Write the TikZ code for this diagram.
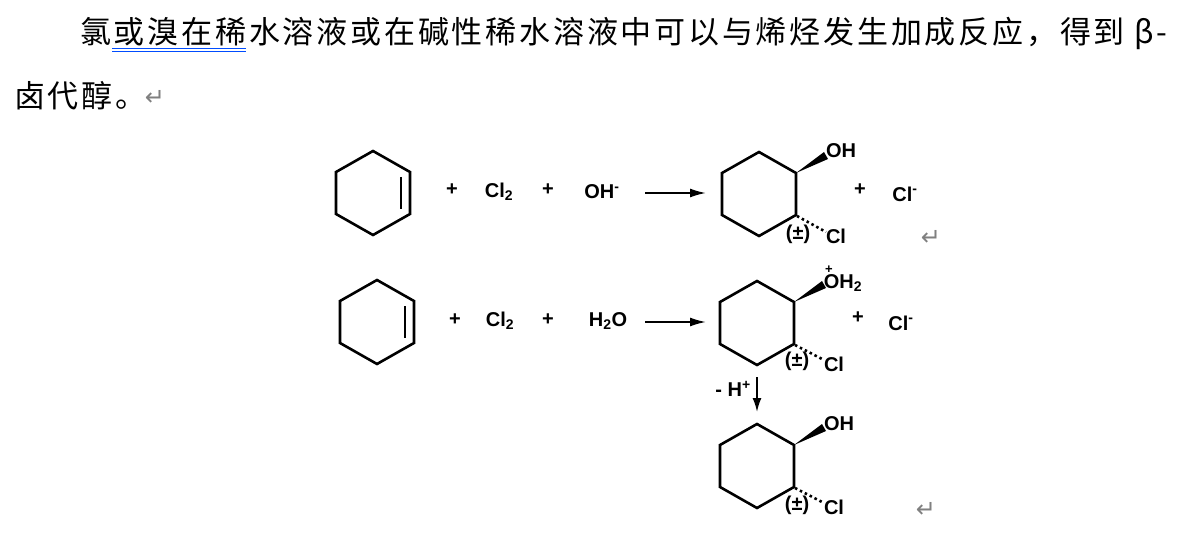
\documentclass[tikz,border=0pt]{standalone}
\usepackage{fontspec}
\usetikzlibrary{arrows.meta}
\setmainfont{Liberation Sans}
\newfontfamily\cjk[LetterSpace=9]{Noto Sans CJK SC}
\newfontfamily\dv{DejaVu Sans}
\begin{document}
\begin{tikzpicture}[x=1pt,y=-1pt,
  bond/.style={line width=2.6pt,line join=miter},
  lab/.style={font=\fontsize{20}{20}\selectfont\bfseries,inner sep=0pt},
  txt/.style={font=\cjk\fontsize{31}{31}\selectfont,inner sep=0pt,anchor=base west},
  ret/.style={font=\dv\fontsize{24}{24}\selectfont,text=gray,inner sep=0pt},
  rarr/.style={line width=1.8pt,-{Latex[length=16pt,width=9pt]}}]
\useasboundingbox (0,0) rectangle (1188,537);
\fill[white] (0,0) rectangle (1188,537);
% text
\node[txt] (t1) at (80,44) {氯或溴在稀水溶液或在碱性稀水溶液中可以与烯烃发生加成反应，得到 β-};
\draw[blue!70!cyan,line width=0.8pt] (112,48)--(246,48) (112,51)--(246,51);
\node[txt] (t2) at (14,108) {卤代醇。};
\node[ret] (r0) at (155,98) {↵};
% cyclohexene 1
\def\hex#1#2{\draw[bond] (#1,#2-42)--(#1+37,#2-21)--(#1+37,#2+21)--(#1,#2+42)--(#1-37,#2+21)--(#1-37,#2-21)--cycle;}
\hex{373}{193}
\draw[bond] (401,177)--(401,209);
\hex{377}{322}
\draw[bond] (405,306)--(405,338);
% row 1 reagents
\node[lab] (p1) at (452,190) {+};
\node[lab] (c1) at (499,192) {Cl\textsubscript{2}};
\node[lab] (p2) at (548,190) {+};
\node[lab] (o1) at (602,192) {OH\textsuperscript{-}};
\coordinate (a1s) at (645,193); \coordinate (a1e) at (706,193);
\draw[rarr] (a1s)--(a1e);
% product 1
\hex{759}{194}
\fill (796,173)--(824,152)--(828,159)--cycle;
\node[lab] (oh1) at (841,151) {OH};
\draw[line width=2.6pt,dash pattern=on 2.5pt off 3pt] (797,216)--(826,232);
\node[lab] (cl1) at (836,236) {Cl};
\node[lab] (pm1) at (798,234) {(±)};
\node[lab] (p3) at (860,190) {+};
\node[lab] (cm1) at (905,194) {Cl\textsuperscript{-}};
\node[ret] (r1) at (931,238) {↵};
% row 2
\node[lab] (p4) at (455,320) {+};
\node[lab] (c2) at (500,321) {Cl\textsubscript{2}};
\node[lab] (p5) at (548,320) {+};
\node[lab] (w2) at (608,321) {H\textsubscript{2}O};
\coordinate (a2s) at (645,322); \coordinate (a2e) at (706,322);
\draw[rarr] (a2s)--(a2e);
\hex{757}{323}
\fill (794,302)--(822,281)--(826,288)--cycle;
\node[lab] (oh2) at (843,283) {OH\textsubscript{2}};
\node[font=\fontsize{13}{13}\selectfont\bfseries,inner sep=0pt] (plus2) at (829,270) {+};
\draw[line width=2.6pt,dash pattern=on 2.5pt off 3pt] (795,345)--(824,360);
\node[lab] (cl2) at (834,364) {Cl};
\node[lab] (pm2) at (797,361) {(±)};
\node[lab] (p6) at (858,318) {+};
\node[lab] (cm2) at (901,323) {Cl\textsuperscript{-}};
% down arrow
\coordinate (d1) at (757,377); \coordinate (d2) at (757,412);
\draw[line width=1.8pt,-{Latex[length=14pt,width=9pt]}] (d1)--(d2);
\node[lab] (h) at (733,389) {- H\textsuperscript{+}};
% product 3
\hex{757}{466}
\fill (794,445)--(822,424)--(826,431)--cycle;
\node[lab] (oh3) at (839,424) {OH};
\draw[line width=2.6pt,dash pattern=on 2.5pt off 3pt] (795,488)--(824,503);
\node[lab] (cl3) at (834,507) {Cl};
\node[lab] (pm3) at (797,505) {(±)};
\node[ret] (r3) at (926,510) {↵};
\end{tikzpicture}
\end{document}
